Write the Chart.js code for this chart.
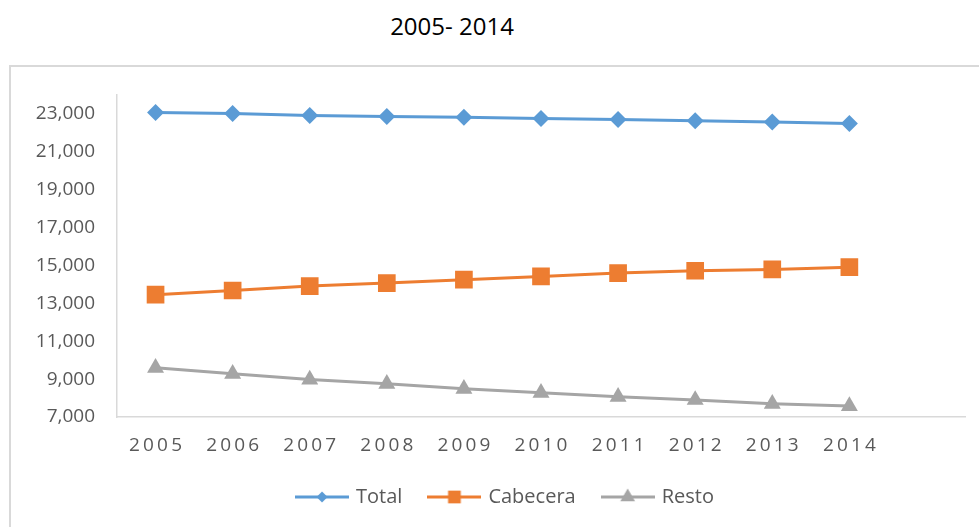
<!DOCTYPE html>
<html>
<head>
<meta charset="utf-8">
<script src="https://cdn.jsdelivr.net/npm/chart.js@4"></script>
<style>
  html, body { margin: 0; padding: 0; background: #fff; overflow: hidden; width: 979px; height: 527px; }
  #title { position: absolute; left: 302px; width: 300px; top: 9px; text-align: center;
           font-family: "Open Sans", sans-serif; font-size: 24px; color: #000; line-height: 34px; }
  #box { position: absolute; left: 9px; top: 65px; width: 1100px; height: 600px; border: 2px solid #d9d9d9; }
  #chart { position: absolute; left: 0; top: 0; }
</style>
</head>
<body>
<div id="title">2005- 2014</div>
<div id="box"></div>
<canvas id="chart" width="1012" height="560"></canvas>
<script>
// datos
const years = ["2005", "2006", "2007", "2008", "2009", "2010", "2011", "2012", "2013", "2014"];
const total = [23080, 23020, 22920, 22860, 22820, 22760, 22710, 22640, 22570, 22500];
const cabecera = [13460, 13680, 13910, 14070, 14250, 14420, 14600, 14720, 14790, 14910];
const resto = [9600, 9280, 8980, 8750, 8490, 8280, 8070, 7900, 7700, 7580];
const yTicks = [7000, 9000, 11000, 13000, 15000, 17000, 19000, 21000, 23000];

const BLUE = "#5b9bd5", ORANGE = "#ed7d31", GREY = "#a5a5a5";

// icono de leyenda: línea con marcador
function legendIcon(color, style, radius) {
    const c = document.createElement("canvas");
    c.width = 54; c.height = 22;
    const g = c.getContext("2d");
    g.strokeStyle = color; g.lineWidth = 3;
    g.beginPath(); g.moveTo(0, 11); g.lineTo(54, 11); g.stroke();
    g.fillStyle = color;
    Chart.helpers.drawPoint(g, { pointStyle: style, radius: radius, rotation: 0, borderWidth: 0 }, 27, 11);
    return c;
}

const series = [
    { label: "Total", data: total, color: BLUE, style: "rectRot", r: 8.5, lr: 5.5 },
    { label: "Cabecera", data: cabecera, color: ORANGE, style: "rect", r: 12.5, lr: 9 },
    { label: "Resto", data: resto, color: GREY, style: "triangle", r: 9.8, lr: 8.5 },
];

new Chart(document.getElementById("chart").getContext("2d"), {
    type: "line",
    data: {
        labels: [...years, ""],
        datasets: series.map(s => ({
            label: s.label,
            data: s.data,
            borderColor: s.color,
            backgroundColor: s.color,
            borderWidth: 3,
            pointStyle: s.style,
            pointRadius: s.r,
            pointBorderWidth: 0,
            pointBackgroundColor: s.color,
            tension: 0,
            legendIcon: legendIcon(s.color, s.style, s.lr),
        })),
    },
    options: {
        responsive: false,
        animation: false,
        layout: { padding: { top: 95, left: 0, right: 0, bottom: 43 } },
        plugins: {
            tooltip: { enabled: false },
            legend: {
                position: "bottom",
                labels: {
                    usePointStyle: true,
                    pointStyleWidth: 48,
                    padding: 28,
                    color: "#595959",
                    font: { family: "Open Sans", size: 20 },
                    generateLabels(chart) {
                        return chart.data.datasets.map((ds, i) => ({
                            text: ds.label,
                            pointStyle: ds.legendIcon,
                            fontColor: "#595959",
                            lineWidth: 0,
                            datasetIndex: i,
                        }));
                    },
                },
            },
        },
        scales: {
            x: {
                offset: true,
                grid: { display: false, drawTicks: false },
                border: { display: true, color: "#d9d9d9", width: 1.5 },
                ticks: {
                    color: "#595959",
                    padding: 17,
                    maxRotation: 0,
                    autoSkip: false,
                    font: { family: "Open Sans", size: 19 },
                    callback: function (v, i) { return (years[i] || "").split("").join("\u2009"); },
                },
                afterFit(scale) { scale.height = 42; },
            },
            y: {
                min: 7000,
                max: 24000,
                grid: { display: false, drawTicks: false },
                border: { display: true, color: "#d9d9d9", width: 1.5 },
                ticks: {
                    color: "#595959",
                    padding: 22,
                    font: { family: "Open Sans", size: 19 },
                    callback: v => v.toLocaleString("en-US"),
                },
                afterBuildTicks(scale) { scale.ticks = yTicks.map(v => ({ value: v })); },
                afterFit(scale) { scale.width = 117; },
            },
            // eje vacío a la derecha, sólo para dejar margen
            yRight: {
                position: "right",
                min: 7000,
                max: 24000,
                grid: { display: false, drawTicks: false },
                border: { display: false },
                ticks: { display: false },
                afterFit(scale) { scale.width = 47; },
            },
        },
    },
});
</script>
</body>
</html>
